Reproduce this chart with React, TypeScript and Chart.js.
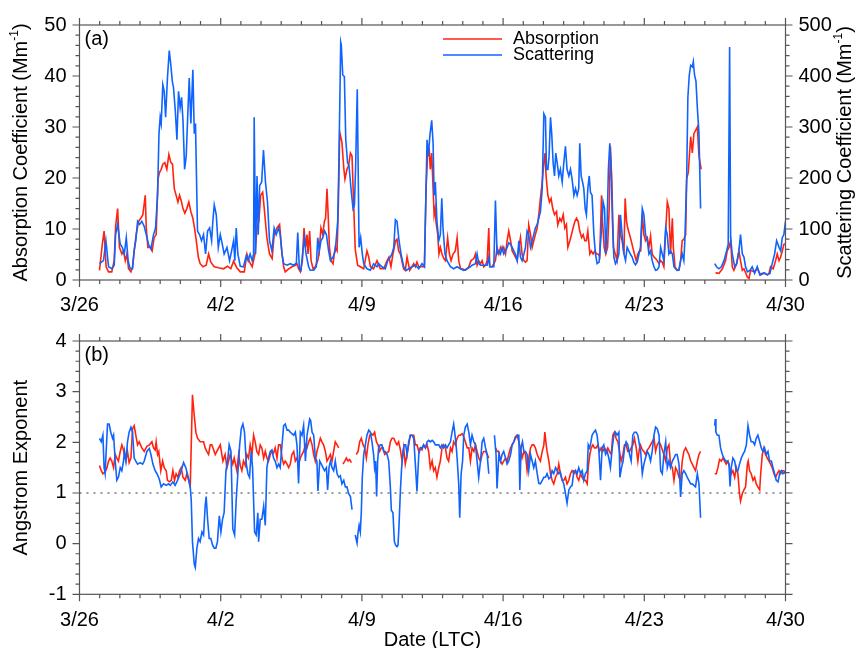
import React, { useEffect, useRef } from 'react';
import { Chart, registerables } from 'chart.js';
Chart.register(...registerables);

const FONT = '"Liberation Sans", Arial, Helvetica, sans-serif';
const RED = 'rgb(255,35,15)';
const BLUE = 'rgb(15,100,255)';
const FRAME = '#555';

// x axis: days since 3/26 00:00
const dateTicks = [0, 7, 14, 21, 28, 35];
const dateTickLabels = ['3/26', '4/2', '4/9', '4/16', '4/23', '4/30'];

// Panel (a): absorption coefficient (Mm-1), [day, value]
const absorption = [
[0.99,1.9],[1.14,7.3],[1.22,9.6],[1.32,2.6],[1.44,1.6],[1.60,1.6],[1.72,3.8],[1.79,10.5],[1.89,14.0],[1.98,6.4],[2.10,5.1],[2.18,5.7],[2.27,3.8],[2.35,5.1],[2.43,2.2],[2.55,1.6],[2.63,2.6],[2.71,5.7],[2.81,8.9],[2.93,11.5],[3.04,12.1],[3.14,12.8],[3.26,16.6],[3.31,10.2],[3.39,6.4],[3.51,6.4],[3.60,5.7],[3.70,8.3],[3.80,8.9],[3.89,19.8],[3.97,21.1],[4.05,21.7],[4.13,22.7],[4.23,23.0],[4.33,21.7],[4.43,24.6],[4.53,23.0],[4.61,22.7],[4.70,17.9],[4.79,16.6],[4.88,15.3],[4.96,16.6],[5.04,15.6],[5.13,14.0],[5.22,13.1],[5.32,14.0],[5.42,15.3],[5.52,13.4],[5.62,12.1],[5.70,10.2],[5.79,7.7],[5.89,4.5],[5.98,3.2],[6.12,2.6],[6.28,2.9],[6.40,5.1],[6.51,3.5],[6.68,2.6],[6.89,2.4],[7.14,2.2],[7.34,2.7],[7.50,2.2],[7.64,3.7],[7.80,2.4],[7.97,1.6],[8.17,1.6],[8.30,5.1],[8.43,3.5],[8.56,2.6],[8.70,5.1],[8.80,10.2],[8.89,11.5],[8.98,16.6],[9.08,17.2],[9.16,14.0],[9.29,8.3],[9.42,5.1],[9.55,4.2],[9.65,8.9],[9.79,10.2],[9.92,10.9],[10.04,5.1],[10.12,2.6],[10.20,1.6],[10.37,2.2],[10.53,2.6],[10.70,2.9],[10.78,3.2],[10.86,2.2],[10.95,1.6],[11.05,3.8],[11.13,10.2],[11.21,6.4],[11.28,8.9],[11.33,5.1],[11.41,9.6],[11.48,3.8],[11.58,2.2],[11.69,2.6],[11.81,3.8],[11.87,5.1],[11.97,10.2],[12.06,8.9],[12.14,11.5],[12.20,12.1],[12.27,17.9],[12.32,13.4],[12.39,6.4],[12.47,3.8],[12.57,3.2],[12.63,5.1],[12.68,6.4],[12.77,5.7],[12.83,14.0],[12.90,29.0],[13.01,27.0],[13.10,22.0],[13.16,19.8],[13.26,21.7],[13.34,22.4],[13.43,24.9],[13.51,24.3],[13.59,15.0],[13.67,6.0],[13.79,2.9],[13.92,2.6],[14.09,2.2],[14.25,5.7],[14.34,4.5],[14.42,2.6],[14.58,2.2],[14.75,3.8],[14.91,2.2],[15.08,2.2],[15.25,3.8],[15.34,4.5],[15.44,2.6],[15.54,5.1],[15.67,7.7],[15.74,8.0],[15.82,5.7],[15.91,5.1],[16.07,2.2],[16.15,1.9],[16.24,4.5],[16.37,1.9],[16.48,2.6],[16.57,3.2],[16.65,2.6],[16.73,3.5],[16.82,2.6],[16.98,2.6],[17.10,2.6],[17.18,17.9],[17.26,24.9],[17.34,25.5],[17.39,21.7],[17.46,24.9],[17.53,17.9],[17.58,12.8],[17.63,14.0],[17.67,11.5],[17.76,8.9],[17.82,5.1],[17.89,6.4],[17.97,5.1],[18.06,4.2],[18.14,3.8],[18.25,8.3],[18.34,5.1],[18.42,3.8],[18.52,5.1],[18.63,5.7],[18.72,8.3],[18.80,3.8],[18.89,2.2],[18.97,2.2],[19.13,1.9],[19.30,2.6],[19.41,3.8],[19.55,4.2],[19.63,5.1],[19.71,2.9],[19.79,3.8],[19.88,3.2],[19.96,3.8],[20.04,2.6],[20.13,2.9],[20.21,3.8],[20.29,10.2],[20.34,2.6],[20.46,2.6],[20.62,3.8],[20.70,6.4],[20.79,5.1],[20.87,6.4],[20.95,5.7],[21.03,6.4],[21.12,5.1],[21.20,7.7],[21.28,9.6],[21.37,7.7],[21.45,5.7],[21.53,5.1],[21.61,4.5],[21.70,3.8],[21.78,6.4],[21.86,8.3],[21.94,5.1],[22.03,3.8],[22.11,3.5],[22.19,3.8],[22.27,10.8],[22.36,8.9],[22.44,6.4],[22.52,7.7],[22.60,8.9],[22.69,10.2],[22.77,12.8],[22.85,16.0],[22.94,19.2],[23.02,23.0],[23.08,24.9],[23.13,20.4],[23.22,16.6],[23.30,15.3],[23.38,16.0],[23.46,14.0],[23.55,12.8],[23.65,13.4],[23.71,10.8],[23.81,12.1],[23.89,11.5],[23.98,12.8],[24.06,10.2],[24.14,10.9],[24.21,6.4],[24.31,7.7],[24.39,8.9],[24.47,10.2],[24.56,11.5],[24.64,12.1],[24.72,11.5],[24.80,9.6],[24.89,8.3],[24.97,8.9],[25.05,7.7],[25.13,7.7],[25.20,9.6],[25.30,5.1],[25.37,5.7],[25.46,5.1],[25.55,5.7],[25.63,5.1],[25.71,5.1],[25.79,4.5],[25.88,16.6],[25.93,11.5],[26.01,6.4],[26.09,5.1],[26.18,6.4],[26.26,14.0],[26.32,26.2],[26.39,19.2],[26.47,6.4],[26.56,5.1],[26.65,3.8],[26.74,12.8],[26.82,8.9],[26.90,7.7],[26.99,5.1],[27.05,16.0],[27.12,11.5],[27.18,10.2],[27.27,8.9],[27.35,7.7],[27.43,6.4],[27.51,5.1],[27.60,3.8],[27.68,5.1],[27.76,5.7],[27.82,5.7],[27.90,12.8],[27.98,8.9],[28.06,7.7],[28.15,8.3],[28.23,6.4],[28.31,8.6],[28.39,5.1],[28.48,4.5],[28.56,4.2],[28.64,3.8],[28.73,3.2],[28.81,3.8],[28.89,3.5],[28.97,2.6],[29.06,9.6],[29.14,15.3],[29.22,14.0],[29.30,5.1],[29.39,12.1],[29.44,6.4],[29.52,2.6],[29.63,1.9],[29.72,2.0],[29.80,3.8],[29.88,7.7],[29.96,8.0],[30.05,8.9],[30.10,19.8],[30.18,21.1],[30.30,28.1],[30.38,24.9],[30.46,28.7],[30.63,30.0],[30.71,24.3],[30.82,21.7],[31.1,null],[31.53,1.4],[31.70,1.3],[31.87,2.2],[32.03,3.8],[32.11,5.7],[32.20,6.4],[32.28,7.7],[32.36,2.6],[32.44,1.9],[32.58,3.2],[32.69,5.7],[32.77,3.8],[32.86,1.9],[32.94,2.2],[33.11,0.6],[33.19,0.3],[33.27,1.9],[33.44,1.6],[33.60,2.2],[33.77,1.0],[33.93,1.3],[34.10,1.0],[34.18,1.3],[34.26,2.6],[34.39,2.2],[34.51,3.8],[34.59,5.1],[34.68,3.8],[34.76,4.5],[34.84,5.7],[34.92,7.0],[35.0,7.1]
];

// Panel (a): scattering coefficient (Mm-1), [day, value]
const scattering = [
[0.99,32],[1.19,38],[1.31,77],[1.44,26],[1.60,22],[1.72,29],[1.79,89],[1.89,109],[2.02,70],[2.12,64],[2.22,51],[2.32,83],[2.41,38],[2.51,22],[2.63,22],[2.71,57],[2.79,77],[2.88,115],[2.98,109],[3.09,115],[3.21,105],[3.31,89],[3.42,70],[3.54,61],[3.67,89],[3.77,102],[3.87,166],[3.94,287],[4.00,319],[4.05,307],[4.13,383],[4.20,370],[4.27,319],[4.36,396],[4.45,450],[4.53,421],[4.60,390],[4.66,377],[4.75,332],[4.83,275],[4.91,370],[4.99,338],[5.06,358],[5.13,313],[5.21,217],[5.29,243],[5.37,326],[5.44,396],[5.52,307],[5.62,412],[5.69,287],[5.75,307],[5.85,96],[5.95,89],[6.05,77],[6.15,89],[6.25,51],[6.35,96],[6.45,102],[6.55,77],[6.61,115],[6.68,147],[6.78,128],[6.88,64],[6.98,89],[7.08,70],[7.17,51],[7.31,64],[7.44,38],[7.54,57],[7.64,77],[7.70,38],[7.77,102],[7.85,51],[7.97,27],[8.13,26],[8.27,48],[8.36,38],[8.46,51],[8.56,38],[8.63,51],[8.66,319],[8.73,51],[8.80,204],[8.86,89],[8.93,185],[9.03,192],[9.12,255],[9.22,192],[9.32,153],[9.42,77],[9.54,57],[9.65,102],[9.75,89],[9.87,102],[9.95,89],[10.04,51],[10.12,32],[10.29,29],[10.45,32],[10.62,29],[10.75,33],[10.82,93],[10.90,22],[10.98,19],[11.06,51],[11.15,83],[11.23,51],[11.36,26],[11.44,19],[11.61,19],[11.74,26],[11.81,83],[11.89,57],[11.97,77],[12.06,83],[12.15,96],[12.24,89],[12.35,57],[12.44,38],[12.57,45],[12.68,57],[12.80,115],[12.86,230],[12.95,466],[12.98,460],[13.05,402],[13.13,399],[13.20,275],[13.29,230],[13.36,224],[13.46,179],[13.56,140],[13.63,147],[13.69,224],[13.77,374],[13.86,64],[13.94,83],[14.02,51],[14.09,32],[14.25,22],[14.42,19],[14.58,32],[14.75,26],[14.83,32],[14.99,26],[15.16,22],[15.28,38],[15.41,45],[15.49,51],[15.58,64],[15.66,118],[15.74,115],[15.84,77],[15.94,51],[16.07,26],[16.20,19],[16.32,22],[16.48,26],[16.65,29],[16.82,22],[16.98,32],[17.10,26],[17.23,275],[17.29,243],[17.38,287],[17.46,313],[17.53,268],[17.58,166],[17.64,192],[17.72,115],[17.81,77],[17.89,89],[17.96,160],[18.02,102],[18.12,51],[18.22,38],[18.39,26],[18.55,22],[18.72,26],[18.88,22],[19.05,19],[19.22,22],[19.38,26],[19.46,29],[19.63,32],[19.71,51],[19.79,32],[19.88,29],[20.04,29],[20.21,29],[20.29,45],[20.34,26],[20.54,26],[20.62,156],[20.70,51],[20.79,57],[20.87,51],[20.95,64],[21.03,51],[21.12,57],[21.20,64],[21.28,73],[21.37,70],[21.45,64],[21.53,57],[21.61,51],[21.70,38],[21.78,77],[21.86,45],[21.94,38],[22.03,51],[22.11,64],[22.19,96],[22.27,89],[22.36,64],[22.44,77],[22.52,89],[22.60,102],[22.69,109],[22.77,121],[22.85,134],[22.94,179],[23.02,326],[23.10,319],[23.15,217],[23.22,217],[23.28,243],[23.35,319],[23.41,287],[23.48,230],[23.55,204],[23.61,249],[23.68,230],[23.76,204],[23.84,217],[23.93,192],[24.01,230],[24.09,262],[24.17,217],[24.26,204],[24.34,217],[24.42,198],[24.51,166],[24.59,179],[24.67,166],[24.75,179],[24.80,268],[24.87,204],[24.94,192],[25.00,179],[25.07,140],[25.13,128],[25.20,179],[25.27,204],[25.33,172],[25.41,166],[25.50,89],[25.58,51],[25.66,32],[25.76,35],[25.86,89],[25.96,153],[26.03,140],[26.09,51],[26.16,115],[26.22,217],[26.29,268],[26.36,217],[26.42,115],[26.49,45],[26.57,32],[26.65,38],[26.74,51],[26.82,128],[26.90,89],[26.99,51],[27.07,38],[27.15,64],[27.23,57],[27.32,50],[27.40,45],[27.48,35],[27.56,30],[27.65,35],[27.73,50],[27.81,65],[27.90,140],[27.98,128],[28.06,89],[28.15,77],[28.23,51],[28.31,57],[28.39,38],[28.48,26],[28.56,19],[28.64,20],[28.73,26],[28.81,64],[28.89,51],[28.97,38],[29.06,102],[29.14,89],[29.22,51],[29.30,57],[29.39,51],[29.47,26],[29.55,22],[29.63,19],[29.72,20],[29.80,38],[29.88,51],[29.96,38],[30.01,77],[30.10,198],[30.16,358],[30.23,402],[30.30,421],[30.38,418],[30.43,428],[30.49,402],[30.56,390],[30.63,338],[30.71,287],[30.79,140],[31.1,null],[31.49,32],[31.58,26],[31.70,22],[31.82,26],[31.95,38],[32.08,57],[32.16,70],[32.23,457],[32.28,83],[32.36,51],[32.48,26],[32.58,32],[32.69,57],[32.77,89],[32.86,51],[32.94,45],[33.02,26],[33.11,16],[33.24,19],[33.35,26],[33.47,13],[33.60,26],[33.73,10],[33.85,13],[33.96,14],[34.10,10],[34.23,13],[34.34,32],[34.46,51],[34.56,77],[34.68,64],[34.76,57],[34.84,83],[34.92,89],[35.0,115]
];

// Panel (b): Angstrom exponent of absorption, [day, value]
const angstromAbs = [
[0.99,1.54],[1.08,1.44],[1.16,1.38],[1.27,1.41],[1.36,1.50],[1.44,1.63],[1.52,1.69],[1.60,1.63],[1.69,1.50],[1.77,1.76],[1.85,1.69],[1.93,1.63],[2.02,1.82],[2.10,1.95],[2.18,1.85],[2.22,1.76],[2.30,1.63],[2.38,1.82],[2.46,1.60],[2.55,1.69],[2.63,2.27],[2.71,2.33],[2.79,2.14],[2.88,1.95],[2.96,2.01],[3.09,1.89],[3.21,1.82],[3.34,1.92],[3.47,1.95],[3.59,2.01],[3.67,1.89],[3.75,1.85],[3.80,2.01],[3.87,1.76],[3.93,1.82],[4.03,1.44],[4.12,1.63],[4.20,1.50],[4.30,1.44],[4.36,1.25],[4.46,1.22],[4.55,1.25],[4.63,1.44],[4.71,1.25],[4.79,1.38],[4.88,1.31],[4.96,1.44],[5.04,1.50],[5.13,1.31],[5.24,1.25],[5.32,1.38],[5.41,1.25],[5.49,1.12],[5.60,2.94],[5.69,2.52],[5.77,2.20],[5.85,2.08],[5.98,2.01],[6.15,2.01],[6.23,1.89],[6.31,1.82],[6.40,1.76],[6.48,1.95],[6.56,1.95],[6.73,1.76],[6.98,1.95],[7.11,1.63],[7.22,1.76],[7.31,1.50],[7.39,1.63],[7.47,1.76],[7.60,1.57],[7.67,1.69],[7.80,1.44],[7.89,1.76],[7.97,1.54],[8.05,1.44],[8.13,1.63],[8.22,1.54],[8.30,1.76],[8.38,1.69],[8.46,1.95],[8.55,1.76],[8.63,2.14],[8.71,2.01],[8.79,1.82],[8.88,1.76],[8.96,1.95],[9.04,1.89],[9.13,1.69],[9.21,1.82],[9.29,1.69],[9.37,1.63],[9.46,1.76],[9.54,1.82],[9.62,1.79],[9.70,1.89],[9.79,1.69],[9.87,1.95],[9.96,1.95],[10.04,1.69],[10.12,1.57],[10.20,1.63],[10.29,1.57],[10.37,1.50],[10.45,1.57],[10.53,1.76],[10.62,1.82],[10.70,1.63],[10.78,1.69],[10.86,1.57],[10.95,1.69],[11.03,1.76],[11.11,1.82],[11.20,1.95],[11.28,1.89],[11.36,2.01],[11.44,2.08],[11.53,1.95],[11.61,1.76],[11.69,1.63],[11.77,1.82],[11.86,1.95],[11.94,2.08],[12.02,2.01],[12.10,1.95],[12.19,1.82],[12.27,1.63],[12.35,1.69],[12.44,1.76],[12.52,1.63],[12.60,1.82],[12.68,2.01],[12.77,1.95],[12.85,1.89],[12.95,null],[13.06,1.57],[13.15,1.63],[13.23,1.69],[13.31,1.63],[13.39,1.66],[13.48,1.60],[13.60,null],[13.72,1.76],[13.81,1.82],[13.89,2.01],[13.97,2.08],[14.06,1.95],[14.14,1.89],[14.22,1.69],[14.30,1.95],[14.39,2.14],[14.47,2.17],[14.55,2.14],[14.63,2.20],[14.72,2.01],[14.80,1.95],[14.88,1.82],[14.96,1.89],[15.05,1.89],[15.13,1.76],[15.33,1.82],[15.41,2.01],[15.49,2.08],[15.58,2.08],[15.66,2.01],[15.74,1.95],[15.82,2.01],[15.91,1.85],[15.99,1.63],[16.07,1.89],[16.15,1.57],[16.24,1.76],[16.32,1.95],[16.40,2.14],[16.48,2.14],[16.57,2.14],[16.65,1.95],[16.73,1.95],[16.82,1.82],[16.90,1.89],[16.98,1.85],[17.06,1.95],[17.15,1.89],[17.23,1.95],[17.31,1.82],[17.39,1.50],[17.48,1.63],[17.56,1.44],[17.64,1.50],[17.72,1.31],[17.81,1.50],[17.89,1.63],[17.97,1.89],[18.05,1.95],[18.14,1.89],[18.22,1.69],[18.30,1.63],[18.39,1.89],[18.47,1.82],[18.55,2.01],[18.63,1.95],[18.72,2.08],[18.80,2.14],[18.88,2.14],[18.97,2.17],[19.05,2.11],[19.13,2.01],[19.22,1.89],[19.30,1.89],[19.38,1.63],[19.46,1.89],[19.55,1.82],[19.63,1.95],[19.71,1.82],[19.79,1.69],[19.88,1.63],[19.96,1.76],[20.04,1.82],[20.13,1.82],[20.21,1.76],[20.29,1.69],[20.43,null],[20.62,1.89],[20.70,1.82],[20.79,1.82],[20.87,1.63],[20.95,1.57],[21.03,1.63],[21.12,1.69],[21.20,1.63],[21.28,1.76],[21.37,1.89],[21.45,1.95],[21.53,2.01],[21.61,2.11],[21.70,2.14],[21.78,2.01],[21.86,1.89],[21.94,1.69],[22.03,1.82],[22.11,1.76],[22.19,1.44],[22.27,1.69],[22.36,1.89],[22.44,1.95],[22.52,1.95],[22.60,1.89],[22.69,1.76],[22.77,1.69],[22.85,1.63],[22.94,1.82],[23.02,1.95],[23.07,2.20],[23.12,2.01],[23.18,1.82],[23.27,1.63],[23.35,1.38],[23.43,1.25],[23.51,1.18],[23.60,1.31],[23.68,1.38],[23.76,1.57],[23.84,1.38],[23.93,1.25],[24.01,1.25],[24.09,1.31],[24.17,1.18],[24.26,1.25],[24.34,1.38],[24.42,1.44],[24.51,1.38],[24.59,1.44],[24.67,1.31],[24.75,1.25],[24.84,1.38],[24.92,1.31],[25.00,1.25],[25.08,1.25],[25.17,1.18],[25.22,1.50],[25.30,1.76],[25.37,1.89],[25.45,1.95],[25.53,1.89],[25.61,1.89],[25.70,1.95],[25.78,1.82],[25.86,1.89],[25.94,1.82],[26.03,1.89],[26.11,1.82],[26.19,1.89],[26.27,1.82],[26.36,1.76],[26.44,2.14],[26.52,2.20],[26.60,2.08],[26.69,2.01],[26.77,1.82],[26.85,1.63],[26.94,1.76],[27.02,1.95],[27.10,1.95],[27.18,1.82],[27.27,1.82],[27.35,1.89],[27.43,1.95],[27.51,2.08],[27.60,1.89],[27.68,1.63],[27.76,1.89],[27.81,1.95],[27.90,1.85],[27.98,1.82],[28.06,1.76],[28.15,1.85],[28.23,1.89],[28.31,1.95],[28.39,2.01],[28.48,2.08],[28.56,1.82],[28.64,1.95],[28.73,2.01],[28.81,1.95],[28.97,1.76],[29.06,1.63],[29.14,1.89],[29.22,1.95],[29.30,1.57],[29.39,1.50],[29.47,1.25],[29.55,1.50],[29.63,1.44],[29.72,1.31],[29.80,1.25],[29.88,1.63],[29.96,1.82],[30.05,1.89],[30.13,1.82],[30.21,1.76],[30.30,1.63],[30.38,1.57],[30.46,1.50],[30.54,1.44],[30.63,1.63],[30.71,1.76],[30.79,1.82],[31.1,null],[31.49,1.38],[31.57,1.38],[31.65,1.50],[31.73,1.66],[31.82,1.63],[31.90,1.69],[31.98,1.63],[32.06,1.57],[32.15,1.63],[32.23,1.50],[32.31,1.38],[32.39,1.44],[32.48,1.31],[32.56,1.50],[32.64,1.38],[32.72,0.99],[32.77,0.84],[32.86,0.99],[32.94,1.06],[33.02,1.12],[33.11,1.57],[33.15,1.63],[33.22,1.44],[33.30,1.38],[33.39,1.25],[33.47,1.31],[33.55,1.18],[33.63,1.12],[33.72,1.06],[33.77,1.38],[33.85,1.76],[33.93,1.89],[34.01,1.76],[34.10,1.69],[34.18,1.63],[34.26,1.57],[34.34,1.50],[34.43,1.38],[34.51,1.31],[34.59,1.38],[34.68,1.44],[34.76,1.38],[34.84,1.44],[34.92,1.44],[35.0,1.38]
];

// Panel (b): Angstrom exponent of scattering, [day, value]
const angstromSca = [
[0.99,2.08],[1.08,2.01],[1.16,2.14],[1.22,1.50],[1.27,1.38],[1.32,1.80],[1.39,2.36],[1.47,2.36],[1.55,2.20],[1.64,2.08],[1.69,2.14],[1.77,1.63],[1.85,1.25],[1.93,1.31],[2.02,1.50],[2.10,1.44],[2.18,1.63],[2.23,1.82],[2.30,1.63],[2.38,2.01],[2.46,2.20],[2.55,2.30],[2.63,2.20],[2.71,1.69],[2.79,1.63],[2.88,1.57],[3.01,1.60],[3.13,1.57],[3.21,1.63],[3.34,1.82],[3.46,1.88],[3.54,1.76],[3.64,1.57],[3.75,1.44],[3.84,1.38],[3.95,1.28],[4.05,1.12],[4.17,1.18],[4.30,1.15],[4.41,1.18],[4.50,1.15],[4.63,1.22],[4.74,1.15],[4.86,1.25],[4.99,1.38],[5.16,1.60],[5.27,1.50],[5.41,1.28],[5.49,1.12],[5.54,0.85],[5.60,0.04],[5.69,-0.41],[5.74,-0.47],[5.82,-0.09],[5.90,0.10],[5.98,0.04],[6.07,0.23],[6.15,0.17],[6.23,0.74],[6.28,0.93],[6.35,0.48],[6.43,0.10],[6.51,0.10],[6.60,-0.03],[6.68,-0.09],[6.76,-0.09],[6.84,0.04],[6.93,0.55],[7.01,0.23],[7.09,0.48],[7.17,0.61],[7.26,1.44],[7.34,1.63],[7.42,1.95],[7.51,1.82],[7.60,0.29],[7.69,0.17],[7.77,0.87],[7.85,1.38],[7.94,1.95],[8.02,2.27],[8.10,2.36],[8.18,2.20],[8.27,1.57],[8.35,1.38],[8.43,1.31],[8.51,1.82],[8.58,1.50],[8.63,0.87],[8.68,0.23],[8.76,0.17],[8.84,0.61],[8.88,0.04],[8.96,0.48],[9.04,0.48],[9.13,0.74],[9.21,0.36],[9.29,1.50],[9.37,1.69],[9.46,1.82],[9.54,1.85],[9.62,1.69],[9.70,1.63],[9.79,1.50],[9.87,1.57],[9.95,1.50],[10.04,1.95],[10.12,2.33],[10.20,2.36],[10.29,2.24],[10.37,2.24],[10.45,2.20],[10.53,2.17],[10.62,2.14],[10.70,2.20],[10.78,1.95],[10.86,1.19],[10.95,2.20],[11.03,2.14],[11.11,2.33],[11.20,1.63],[11.28,2.14],[11.36,2.33],[11.41,2.46],[11.46,2.43],[11.53,2.20],[11.61,2.14],[11.69,1.69],[11.77,1.63],[11.82,1.04],[11.91,1.63],[11.99,1.57],[12.07,1.50],[12.15,1.44],[12.24,1.50],[12.30,1.06],[12.37,1.50],[12.44,1.63],[12.52,1.50],[12.60,1.44],[12.68,1.63],[12.77,1.38],[12.85,1.31],[12.93,1.34],[13.01,1.18],[13.10,1.25],[13.18,1.12],[13.26,1.12],[13.34,0.99],[13.43,0.93],[13.51,0.67],[13.59,null],[13.67,0.17],[13.76,0.01],[13.81,0.23],[13.86,0.36],[13.92,0.23],[13.97,0.61],[14.02,1.31],[14.09,1.76],[14.17,1.95],[14.25,2.14],[14.34,2.24],[14.42,2.20],[14.50,2.01],[14.58,1.76],[14.63,1.50],[14.68,1.63],[14.73,0.93],[14.78,1.63],[14.83,1.89],[14.91,1.95],[14.99,1.95],[15.08,1.82],[15.16,1.82],[15.25,1.76],[15.33,1.63],[15.41,1.12],[15.46,0.66],[15.54,0.61],[15.61,0.04],[15.67,-0.03],[15.74,-0.06],[15.79,-0.03],[15.84,0.36],[15.91,1.06],[15.97,1.50],[16.04,1.82],[16.10,1.95],[16.17,1.95],[16.24,1.76],[16.32,2.01],[16.40,2.14],[16.48,2.14],[16.57,2.08],[16.65,1.57],[16.73,1.03],[16.82,1.76],[16.90,1.89],[16.98,1.89],[17.06,1.95],[17.15,1.89],[17.23,2.01],[17.31,2.04],[17.39,2.01],[17.48,2.04],[17.56,2.01],[17.64,1.95],[17.72,1.95],[17.81,1.95],[17.89,1.89],[17.97,1.95],[18.05,1.89],[18.14,1.95],[18.22,1.89],[18.30,1.95],[18.39,2.01],[18.47,2.20],[18.55,2.36],[18.60,2.20],[18.67,1.95],[18.72,1.69],[18.80,1.18],[18.85,0.51],[18.92,1.38],[18.99,1.63],[19.05,2.14],[19.13,2.30],[19.22,2.36],[19.30,2.20],[19.38,1.95],[19.46,2.14],[19.55,2.01],[19.63,1.95],[19.71,1.63],[19.79,1.31],[19.88,1.63],[19.96,2.01],[20.04,2.08],[20.13,1.89],[20.21,1.76],[20.29,1.38],[20.43,null],[20.57,2.14],[20.65,1.76],[20.70,1.09],[20.79,1.76],[20.87,1.63],[20.95,1.76],[21.03,1.82],[21.12,1.69],[21.20,1.57],[21.28,1.63],[21.37,1.76],[21.45,1.95],[21.53,2.01],[21.61,2.08],[21.70,2.14],[21.78,2.14],[21.83,1.06],[21.89,1.89],[21.96,2.01],[22.03,1.82],[22.11,1.82],[22.19,1.76],[22.27,1.44],[22.36,1.76],[22.44,1.63],[22.52,1.50],[22.60,1.63],[22.69,1.38],[22.77,1.19],[22.85,1.18],[22.94,1.25],[23.02,1.31],[23.10,1.31],[23.18,1.38],[23.27,1.28],[23.35,1.31],[23.43,1.44],[23.51,1.38],[23.60,1.50],[23.68,1.44],[23.76,1.38],[23.84,1.41],[23.93,1.25],[24.01,1.18],[24.09,0.99],[24.17,0.80],[24.26,1.06],[24.34,1.12],[24.42,1.15],[24.51,1.44],[24.59,1.44],[24.67,1.38],[24.75,1.50],[24.84,1.38],[24.92,1.44],[25.00,1.25],[25.08,1.38],[25.17,1.44],[25.22,1.95],[25.28,1.89],[25.33,1.95],[25.41,2.14],[25.50,2.20],[25.58,2.24],[25.66,2.14],[25.75,1.82],[25.83,1.25],[25.91,1.89],[25.99,1.95],[26.08,1.76],[26.16,1.82],[26.24,1.69],[26.32,1.50],[26.41,1.89],[26.49,2.14],[26.57,2.20],[26.65,2.14],[26.74,2.20],[26.79,1.31],[26.87,1.50],[26.95,1.63],[27.02,1.89],[27.10,2.01],[27.18,1.95],[27.27,1.76],[27.35,1.63],[27.43,2.14],[27.51,2.20],[27.60,2.20],[27.68,2.14],[27.76,1.95],[27.82,1.82],[27.90,1.38],[27.98,1.57],[28.06,1.69],[28.15,1.82],[28.23,1.76],[28.31,1.63],[28.39,1.82],[28.48,2.14],[28.56,2.30],[28.64,2.27],[28.73,2.14],[28.81,1.44],[28.89,1.38],[28.97,1.76],[29.06,2.01],[29.14,1.50],[29.22,1.63],[29.30,1.50],[29.39,1.63],[29.47,1.69],[29.55,1.76],[29.63,1.76],[29.72,1.57],[29.80,0.92],[29.88,1.38],[29.96,1.44],[30.05,1.38],[30.13,1.31],[30.21,1.25],[30.30,1.18],[30.38,1.18],[30.46,1.15],[30.54,1.12],[30.63,1.38],[30.71,1.18],[30.79,0.51],[31.1,null],[31.49,2.33],[31.52,2.46],[31.55,2.20],[31.62,2.14],[31.70,2.14],[31.78,1.89],[31.87,1.76],[31.95,1.69],[32.03,1.63],[32.11,1.63],[32.20,1.57],[32.25,1.13],[32.31,1.50],[32.39,1.69],[32.48,1.63],[32.56,1.44],[32.64,1.44],[32.72,1.57],[32.81,1.69],[32.89,1.76],[32.97,1.82],[33.06,1.95],[33.14,2.33],[33.22,2.14],[33.30,2.01],[33.39,2.01],[33.47,1.95],[33.55,2.08],[33.63,2.14],[33.72,2.01],[33.80,1.89],[33.88,1.82],[33.96,1.89],[34.05,1.76],[34.13,1.82],[34.21,1.63],[34.30,1.63],[34.38,1.50],[34.46,1.38],[34.54,1.25],[34.63,1.22],[34.71,1.38],[34.79,1.44],[34.87,1.38],[34.96,1.41],[35.0,1.38]
];

const toXY = (arr: any[]) => arr.map(([x, y]) => ({ x, y }));

function xScale(height: number, padding: number) {
  return {
    type: 'linear' as const, min: 0, max: 35,
    grid: { display: false, drawTicks: false }, border: { display: false },
    ticks: {
      stepSize: 7, autoSkip: false, maxRotation: 0, padding, color: '#000',
      font: { size: 20, family: FONT },
      callback: (v: any) => { const i = dateTicks.indexOf(Number(v)); return i >= 0 ? dateTickLabels[i] : ''; },
    },
    afterFit: (s: any) => { s.height = height; },
  };
}

function yScale(position: 'left' | 'right', min: number, max: number, step: number, width: number) {
  return {
    type: 'linear' as const, position, min, max,
    grid: { display: false, drawTicks: false }, border: { display: false },
    ticks: { stepSize: step, padding: 13, color: '#000', font: { size: 20, family: FONT } },
    afterFit: (s: any) => { s.width = width; },
  };
}

function drawFrame(chart: any, minor: number, major: number) {
  const { ctx, chartArea: a } = chart;
  const xs = chart.scales.x; const ys = chart.scales.y;
  ctx.save();
  ctx.strokeStyle = FRAME; ctx.lineWidth = 1.2;
  ctx.strokeRect(a.left, a.top, a.right - a.left, a.bottom - a.top);
  ctx.beginPath();
  for (let d = 0; d <= 35; d++) {
    const px = xs.getPixelForValue(d);
    const len = d % 7 === 0 ? 7 : 4;
    ctx.moveTo(px, a.bottom); ctx.lineTo(px, a.bottom + len);
    ctx.moveTo(px, a.top); ctx.lineTo(px, a.top - len);
  }
  const n = Math.round((ys.max - ys.min) / minor);
  for (let i = 0; i <= n; i++) {
    const v = ys.min + i * minor;
    const py = ys.getPixelForValue(v);
    const r = v / major;
    const len = Math.abs(r - Math.round(r)) < 1e-6 ? 7 : 4;
    ctx.moveTo(a.left, py); ctx.lineTo(a.left - len, py);
    ctx.moveTo(a.right, py); ctx.lineTo(a.right + len, py);
  }
  ctx.stroke();
  ctx.restore();
}

function drawVTitle(ctx: any, x: number, yc: number, main: string, sup: string, tail: string, size: number) {
  ctx.save();
  ctx.translate(x, yc); ctx.rotate(-Math.PI / 2);
  ctx.fillStyle = '#000'; ctx.textBaseline = 'middle'; ctx.textAlign = 'left';
  const f = `${size}px ${FONT}`; const fs = `${Math.round(size * 0.62)}px ${FONT}`;
  ctx.font = f; const w1 = ctx.measureText(main).width; const w3 = tail ? ctx.measureText(tail).width : 0;
  ctx.font = fs; const w2 = sup ? ctx.measureText(sup).width : 0;
  const start = -(w1 + w2 + w3) / 2;
  ctx.font = f; ctx.fillText(main, start, 0);
  if (sup) { ctx.font = fs; ctx.fillText(sup, start + w1, -size * 0.33); }
  if (tail) { ctx.font = f; ctx.fillText(tail, start + w1 + w2, 0); }
  ctx.restore();
}

function drawText(ctx: any, s: string, x: number, y: number, size: number, align = 'left') {
  ctx.save();
  ctx.fillStyle = '#000'; ctx.font = `${size}px ${FONT}`; ctx.textAlign = align; ctx.textBaseline = 'middle';
  ctx.fillText(s, x, y);
  ctx.restore();
}

const topPlugin = {
  id: 'topDecor',
  afterDraw(chart: any) {
    const { ctx, chartArea: a } = chart;
    drawFrame(chart, 2, 10);
    const yc = (a.top + a.bottom) / 2;
    drawVTitle(ctx, 21, yc, 'Absorption Coefficient (Mm', '-1', ')', 20);
    drawVTitle(ctx, 845, yc, 'Scattering Coefficient (Mm', '-1', ')', 20);
    drawText(ctx, '(a)', a.left + 5, a.top + 14, 20);
    // legend
    const items = [chart.data.datasets[0], chart.data.datasets[1]];
    const ys = [39, 55];
    items.forEach((ds: any, i: number) => {
      ctx.save();
      ctx.strokeStyle = ds.borderColor; ctx.lineWidth = 1.6;
      ctx.beginPath(); ctx.moveTo(443, ys[i]); ctx.lineTo(502, ys[i]); ctx.stroke();
      ctx.restore();
      drawText(ctx, ds.label, 513, ys[i], 18);
    });
  },
};

const bottomPlugin = {
  id: 'bottomDecor',
  beforeDatasetsDraw(chart: any) {
    const { ctx, chartArea: a } = chart;
    const py = chart.scales.y.getPixelForValue(1);
    ctx.save();
    ctx.strokeStyle = '#777'; ctx.lineWidth = 1.5; ctx.setLineDash([2, 5]);
    ctx.beginPath(); ctx.moveTo(a.left, py); ctx.lineTo(a.right, py); ctx.stroke();
    ctx.restore();
  },
  afterDraw(chart: any) {
    const { ctx, chartArea: a } = chart;
    drawFrame(chart, 0.2, 1);
    drawVTitle(ctx, 21, (a.top + a.bottom) / 2, 'Angstrom Exponent', '', '', 20);
    drawText(ctx, '(b)', a.left + 5, a.top + 14, 20);
    drawText(ctx, 'Date (LTC)', (a.left + a.right) / 2, 324, 20, 'center');
  },
};

export default function App() {
  const topRef = useRef<HTMLCanvasElement>(null);
  const botRef = useRef<HTMLCanvasElement>(null);

  useEffect(() => {
    Chart.defaults.font.family = FONT;
    const line = { pointRadius: 0, borderWidth: 1.6, tension: 0, spanGaps: false, fill: false };
    const c1 = new Chart(topRef.current as HTMLCanvasElement, {
      type: 'line',
      data: {
        datasets: [
          { ...line, label: 'Absorption', data: toXY(absorption), borderColor: RED, yAxisID: 'y', order: 2 },
          { ...line, label: 'Scattering', data: toXY(scattering), borderColor: BLUE, yAxisID: 'y2', order: 1 },
        ],
      },
      options: {
        responsive: false, animation: false, devicePixelRatio: 1,
        parsing: true,
        layout: { padding: { top: 19, left: 0, right: 0, bottom: 0 } },
        plugins: { legend: { display: false }, tooltip: { enabled: false } },
        scales: {
          x: xScale(36, 13),
          y: yScale('left', 0, 50, 10, 79.5),
          y2: yScale('right', 0, 500, 100, 71.5),
        },
      } as any,
      plugins: [topPlugin],
    });
    const c2 = new Chart(botRef.current as HTMLCanvasElement, {
      type: 'line',
      data: {
        datasets: [
          { ...line, label: 'Absorption', data: toXY(angstromAbs), borderColor: RED, order: 2 },
          { ...line, label: 'Scattering', data: toXY(angstromSca), borderColor: BLUE, order: 1 },
        ],
      },
      options: {
        responsive: false, animation: false, devicePixelRatio: 1,
        layout: { padding: { top: 16.7, left: 0, right: 71.5, bottom: 0 } },
        plugins: { legend: { display: false }, tooltip: { enabled: false } },
        scales: {
          x: xScale(53.7, 14),
          y: yScale('left', -1, 4, 1, 79.5),
        },
      } as any,
      plugins: [bottomPlugin],
    });
    return () => { c1.destroy(); c2.destroy(); };
  }, []);

  return (
    <div style={{ position: 'fixed', left: 0, top: 0, width: 857, height: 648, background: '#fff' }}>
      <canvas ref={topRef} width={857} height={316} style={{ position: 'absolute', left: 0, top: 0, display: 'block' }} />
      <canvas ref={botRef} width={857} height={332} style={{ position: 'absolute', left: 0, top: 316, display: 'block' }} />
    </div>
  );
}
